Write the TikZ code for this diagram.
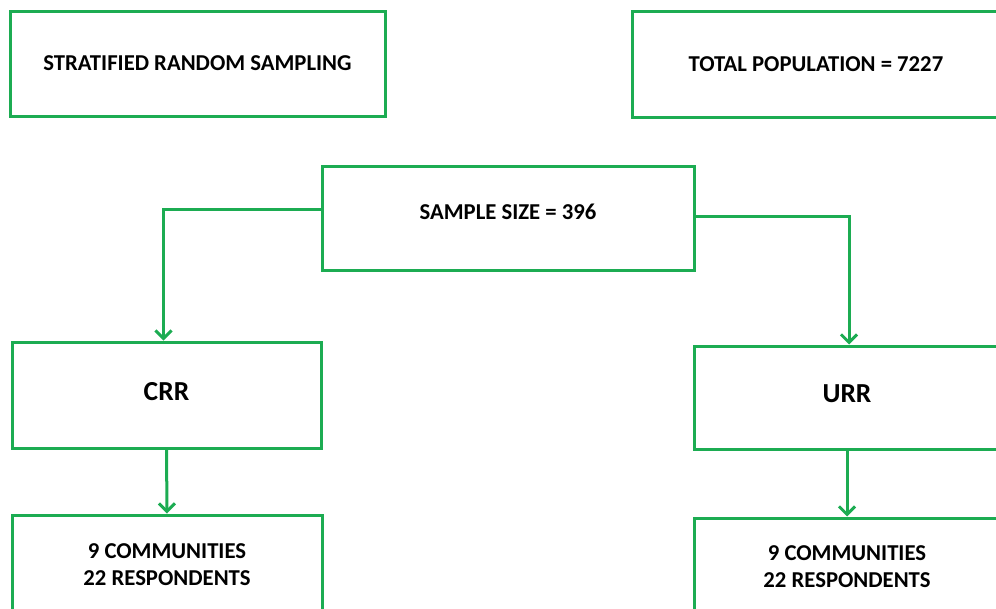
\documentclass[tikz,border=0pt]{standalone}
\usepackage{fontspec}
\setmainfont{Carlito}
\usetikzlibrary{arrows.meta}

\definecolor{boxgreen}{RGB}{28,172,82}

\tikzset{
	box/.style={draw=boxgreen, line width=3pt, inner sep=0pt, align=center,
		font=\bfseries\fontsize{22.7}{27}\selectfont},
	bigtext/.style={font=\bfseries\fontsize{27.5}{30}\selectfont},
	arrow/.style={draw=boxgreen, line width=3pt, -{Straight Barb[length=8pt,width=16pt]}}
}

\begin{document}
\begin{tikzpicture}[x=1pt,y=-1pt]
			\useasboundingbox (0,0) rectangle (996,608);
			\clip (0,0) rectangle (996,608);

			% top row
			\node[box, minimum width=375pt, minimum height=105pt] (strat) at (197.5,63.5) {STRATIFIED RANDOM SAMPLING};
			\node[box, minimum width=368pt, minimum height=106pt] (total) at (816,64) {TOTAL POPULATION = 7227};

			% sample size
			\node[box, minimum width=372pt, minimum height=104pt, text depth=12pt] (sample) at (508,218) {SAMPLE SIZE = 396};

			% the two strata
			\node[box, bigtext, minimum width=309pt, minimum height=106pt, text depth=8pt] (crr) at (166.5,395) {CRR};
			\node[box, bigtext, minimum width=306pt, minimum height=103pt, text depth=8pt] (urr) at (847,397.5) {URR};

			\node[box, minimum width=310pt, minimum height=100pt] (crrbot) at (167,565) {9 COMMUNITIES\\22 RESPONDENTS};
			\node[box, minimum width=306pt, minimum height=98pt] (urrbot) at (847,567) {9 COMMUNITIES\\22 RESPONDENTS};

			\draw[arrow] ([yshift=9pt]sample.west) -| ([xshift=-3pt]crr.north);
			\draw[arrow] ([yshift=2pt]sample.east) -| ([xshift=2pt]urr.north);
			\draw[arrow] (crr.south) -- (crrbot.north);
			\draw[arrow] (urr.south) -- (urrbot.north);
		\end{tikzpicture}
\end{document}
